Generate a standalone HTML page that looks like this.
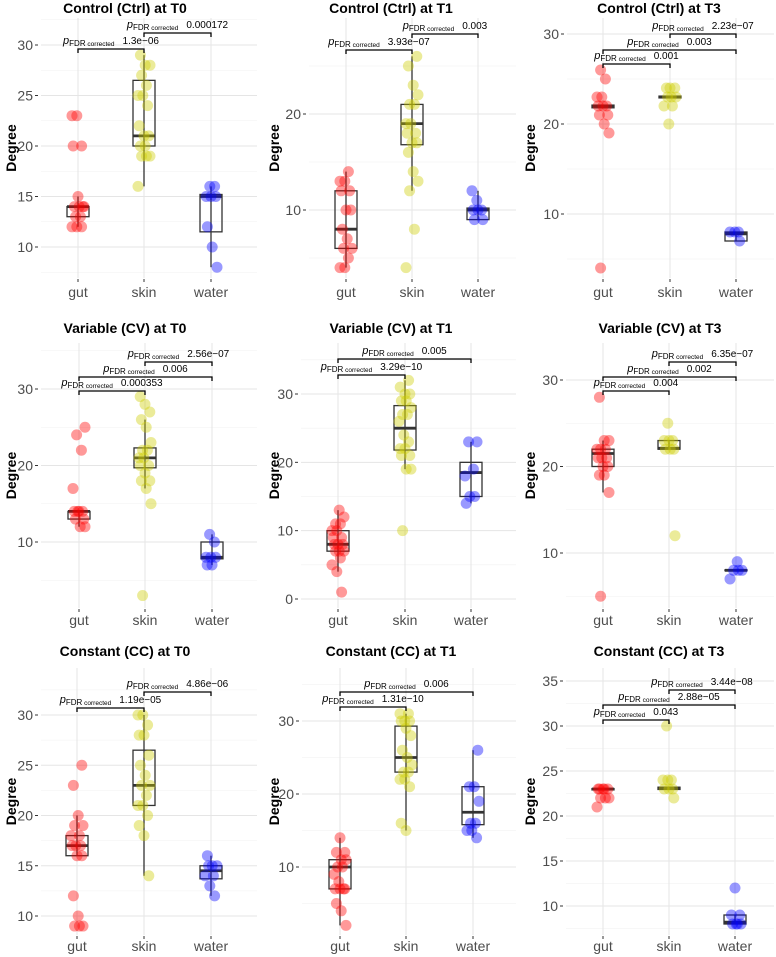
<!DOCTYPE html>
<html><head><meta charset="utf-8">
<style>
html,body{margin:0;padding:0;background:#fff;}
svg{display:block;font-family:"Liberation Sans",Arial,sans-serif;}
</style></head>
<body>
<svg id="chart" width="776" height="957" viewBox="0 0 776 957" xmlns="http://www.w3.org/2000/svg"></svg>
<script>
const categories = ["gut","skin","water"];
const colors = ["#ff0000","#cccc00","#0000ff"];
const titles = ["Control (Ctrl) at T0","Control (Ctrl) at T1","Control (Ctrl) at T3",
  "Variable (CV) at T0","Variable (CV) at T1","Variable (CV) at T3",
  "Constant (CC) at T0","Constant (CC) at T1","Constant (CC) at T3"];
const tickValues = [[10,15,20,25,30],[10,20],[10,20,30],[10,20,30],[0,10,20,30],[10,20,30],[10,15,20,25,30],[10,20,30],[10,15,20,25,30,35]];
// points per panel: [gut, skin, water]
const gutValues = [
  [23,23,20,20,15,14,14,14,14,13,13,12,12,12],
  [14,13,13,12,12,10,10,8,7,6,6,5,4,4],
  [26,25,23,23,22,22,22,21,21,20,19,4],
  [25,24,22,17,14,14,14,14,13,13,12,12],
  [13,12,11,11,10,10,9,9,8,8,8,7,7,7,6,5,4,1],
  [28,23,23,22,22,22,21,21,21,20,20,19,19,17,5],
  [25,23,20,19,19,18,18,17,17,17,16,16,12,10,9,9,9],
  [14,12,12,11,11,10,10,9,8,7,7,7,7,5,4,2],
  [23,23,23,23,23,22,22,22,21]];
const skinValues = [
  [29,28,28,27,26,25,25,24,22,21,21,20,20,19,19,19,16],
  [26,25,23,22,21,21,19,19,18,18,17,17,16,14,13,12,8,4],
  [24,24,24,23,23,23,22,22,20],
  [29,28,27,26,25,23,22,22,21,21,20,20,19,18,18,17,15,3],
  [32,31,30,30,29,29,28,27,27,26,24,23,22,22,21,21,19,19,10],
  [25,23,23,23,22,22,22,12],
  [30,30,29,28,28,26,25,24,23,23,22,21,21,20,19,18,14],
  [31,31,30,30,30,29,28,26,25,24,23,23,22,22,21,16,15],
  [30,24,24,24,23,23,23,22]];
const waterValues = [
  [16,16,15,15,15,12,10,8],
  [12,11,10,10,10,9,9],
  [8,8,8,7],
  [11,10,8,8,8,7,7],
  [23,23,19,18,15,15,14],
  [9,8,8,8,7],
  [16,15,15,15,14,14,13,12],
  [26,21,21,19,16,16,15,15,14],
  [12,9,9,8,8,8,8]];
// box stats [whiskerLow, q1, median, q3, whiskerHigh] per panel per category
const boxStats = [
  [[12,13,14,14,15],[16,20,21,26.5,29],[8,11.5,15,15.2,16]],
  [[4,6,8,12,14],[12,16.8,19,21,26],[9,9,10,10.2,12]],
  [[21.8,21.8,22,22.1,22.1],[22.9,22.9,23,23.1,23.1],[7,7,7.8,8,8]],
  [[12,13,14,14,14],[17,19.7,21,22.3,26],[7,7.8,8,10,11]],
  [[4,7,8,10,13],[19,21.8,25,28.3,32],[14,15,18.5,20,23]],
  [[17,20,21.5,22,23],[22,22,22.1,23,23],[7.95,7.95,8,8.05,8.05]],
  [[16,16,17,18,20],[14,21,23,26.5,30],[12,13.7,14.5,15,16]],
  [[2,7,10,11,14],[15,23,25,29.3,31],[14,15.8,17.5,21,26]],
  [[22.9,22.9,23,23.05,23.05],[22.95,22.95,23.1,23.2,23.2],[8,8,8.2,9,9]]];
// comparisons: [fromCat, toCat, p-value label]
const comparisons = [
  [[0,1,"1.3e\u221206"],[1,2,"0.000172"]],
  [[0,1,"3.93e\u221207"],[1,2,"0.003"]],
  [[0,1,"0.001"],[0,2,"0.003"],[1,2,"2.23e\u221207"]],
  [[0,1,"0.000353"],[0,2,"0.006"],[1,2,"2.56e\u221207"]],
  [[0,1,"3.29e\u221210"],[0,2,"0.005"]],
  [[0,1,"0.004"],[0,2,"0.002"],[1,2,"6.35e\u221207"]],
  [[0,1,"1.19e\u221205"],[1,2,"4.86e\u221206"]],
  [[0,1,"1.31e\u221210"],[0,2,"0.006"]],
  [[0,1,"0.043"],[0,2,"2.88e\u221205"],[1,2,"3.44e\u221208"]]];

// layout (pixels)
const layout = [
  {ox:0,  tickX:38, cats:[78,144,211], v:[30,10], px:[45,247], top:18, bot:278, titleY:13, labY:297, titleX:125, br:[49,33]},
  {ox:259,tickX:306,cats:[346,412,478], v:[20,10], px:[114,210], top:18, bot:278, titleY:13, labY:297, titleX:391, br:[50,34]},
  {ox:517,tickX:564,cats:[603,670,736], v:[30,10], px:[34,214], top:18, bot:278, titleY:13, labY:297, titleX:659, br:[64,50,34]},
  {ox:0,  tickX:38, cats:[79,145,212], v:[30,10], px:[389,542], top:343, bot:608, titleY:333, labY:625, titleX:125, br:[391,377,362]},
  {ox:259,tickX:298,cats:[338,405,471], v:[30,0], px:[394,599], top:343, bot:608, titleY:333, labY:625, titleX:391, br:[375,359]},
  {ox:517,tickX:563,cats:[603,669,736], v:[30,10], px:[380,553], top:343, bot:608, titleY:333, labY:625, titleX:660, br:[391,377,362]},
  {ox:0,  tickX:38, cats:[77,144,211], v:[30,10], px:[715,916], top:668, bot:935, titleY:656, labY:951, titleX:125, br:[708,692]},
  {ox:259,tickX:299,cats:[340,406,473], v:[30,10], px:[721,867], top:668, bot:935, titleY:656, labY:951, titleX:391, br:[707,692]},
  {ox:517,tickX:563,cats:[603,669,735], v:[35,10], px:[681,906], top:668, bot:935, titleY:656, labY:951, titleX:659, br:[720,705,690]}];

const NS="http://www.w3.org/2000/svg";
const svg=document.getElementById('chart');
function mk(tag,attrs,parent){const e=document.createElementNS(NS,tag);for(const k in attrs)e.setAttribute(k,attrs[k]);(parent||svg).appendChild(e);return e;}

for(let p=0;p<9;p++){
  const L=layout[p];
  const g=mk('g',{});
  
  
  const yS=v=>L.px[0]+(v-L.v[0])*(L.px[1]-L.px[0])/(L.v[1]-L.v[0]);
  const left=L.tickX+3, right=L.ox+257;
  const ticks=tickValues[p];
  const step=ticks.length>1?ticks[1]-ticks[0]:10;
  // minor grid
  for(let v=ticks[0]-step/2; v<=ticks[ticks.length-1]+step; v+=step){
    const y=yS(v); if(y<L.top||y>L.bot) continue;
    const ln=mk('line',{x1:left,x2:right,y1:y,y2:y,stroke:'#f0f0f0','stroke-width':0.6},g);
    
    
  }
  for(const v of ticks){
    const y=yS(v);
    const ln=mk('line',{x1:left,x2:right,y1:y,y2:y,stroke:'#e5e5e5','stroke-width':1},g);
    
    
    mk('line',{x1:L.tickX-3,x2:L.tickX,y1:y,y2:y,stroke:'#333','stroke-width':1},g);
    const t=mk('text',{x:L.tickX-5,y:y+5,'text-anchor':'end','font-size':14,fill:'#4d4d4d'},g);
    t.textContent=v;
    
    
  }
  L.cats.forEach((cx,c)=>{
    const ln=mk('line',{x1:cx,x2:cx,y1:L.top,y2:L.bot,stroke:'#e5e5e5','stroke-width':1},g);
    
    
    mk('line',{x1:cx,x2:cx,y1:L.bot+1,y2:L.bot+4,stroke:'#333','stroke-width':1},g);
    const t=mk('text',{x:cx,y:L.labY,'text-anchor':'middle','font-size':14,fill:'#4d4d4d'},g);
    t.textContent=categories[c];
    
    
  });
  // title
  const tt=mk('text',{x:L.titleX,y:L.titleY,'text-anchor':'middle','font-size':14,'font-weight':'bold',fill:'#000'},g);
  tt.textContent=titles[p];
  
  
  const ymid=(L.top+L.bot)/2, yx=L.ox+(p%3===0?11:(p%3===1?15:13));
  const yt=mk('text',{x:yx,y:ymid,'text-anchor':'middle','font-size':14,'font-weight':'bold',fill:'#000',transform:`rotate(-90 ${yx} ${ymid})`,dy:5},g);
  yt.textContent='Degree';
  
  
  // boxes
  const groups=[gutValues[p],skinValues[p],waterValues[p]];
  groups.forEach((vals,c)=>{
    const cx=L.cats[c], bs=boxStats[p][c], hw=11;
    const wl=mk('line',{x1:cx,x2:cx,y1:yS(bs[0]),y2:yS(bs[4]),stroke:'#333','stroke-width':1.3},g);
    
    
    const r=mk('rect',{x:cx-hw,y:yS(bs[3]),width:2*hw,height:Math.max(0.5,yS(bs[1])-yS(bs[3])),fill:'none',stroke:'#333','stroke-width':1.3},g);
    
    
    const m=mk('line',{x1:cx-hw,x2:cx+hw,y1:yS(bs[2]),y2:yS(bs[2]),stroke:'#333','stroke-width':2.8},g);
    
    
  });
  groups.forEach((vals,c)=>{
    vals.forEach((v,i)=>{
      const j=(((i*37+c*13+p*7)%11)-5)*1.2;
      const pt=mk('circle',{cx:L.cats[c]+j,cy:yS(v),r:5.5,fill:colors[c],'fill-opacity':0.4},g);
      
      
    });
  });
  // brackets
  comparisons[p].forEach((cmp,k)=>{
    const x1=L.cats[cmp[0]], x2=L.cats[cmp[1]], y=L.br[k];
    const b=mk('path',{d:`M${x1},${y+4}V${y}H${x2}V${y+4}`,fill:'none',stroke:'#000','stroke-width':1.3},g);
    
    
    const t=mk('text',{x:(x1+x2)/2,y:y-5,'text-anchor':'middle','font-size':10,fill:'#000'},g);
    
    
    const a=mk('tspan',{'font-style':'italic','font-size':11},t); a.textContent='p';
    const b2=mk('tspan',{'font-size':8,dy:2},t); b2.textContent='FDR';
    const c2=mk('tspan',{'font-size':6.5},t); c2.textContent=' corrected';
    const d=mk('tspan',{'font-size':10,dy:-2,dx:8},t); d.textContent=cmp[2];
  });
}
</script>
</body></html>
